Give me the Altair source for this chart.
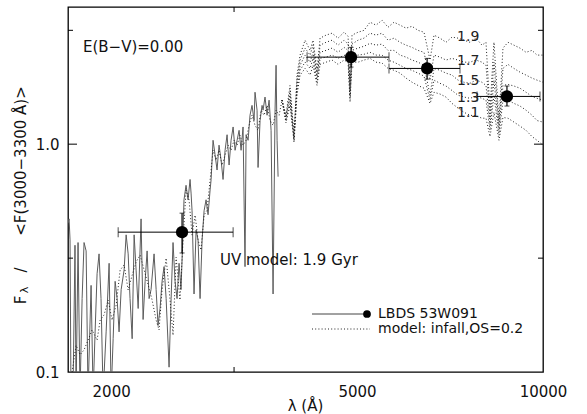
import altair as alt
import pandas as pd

FONT = "DejaVu Sans"
W, H = 475, 365

# observed spectrum (LBDS 53W091), wavelength in Angstrom, normalised flux
obs_wave = [1703, 1710, 1716, 1722, 1735, 1748, 1755, 1768, 1781, 1795, 1808, 1822, 1835, 1856, 1870,
            1884, 1898, 1912, 1926, 1941, 1963, 1985, 2000, 2015, 2030, 2045, 2060, 2076, 2099, 2115,
            2131, 2146, 2163, 2179, 2195, 2212, 2236, 2253, 2270, 2287, 2304, 2321, 2347, 2365, 2382,
            2400, 2418, 2436, 2455, 2482, 2501, 2519, 2538, 2557, 2576, 2595, 2615, 2624, 2644, 2664,
            2684, 2694, 2704, 2724, 2745, 2765, 2786, 2807, 2828, 2849, 2870, 2892, 2903, 2924, 2946,
            2968, 2990, 3013, 3035, 3058, 3081, 3104, 3127, 3151, 3174, 3198, 3222, 3246, 3270, 3294,
            3307, 3332, 3356, 3381, 3407, 3419, 3445, 3458, 3484, 3510, 3523, 3549, 3576, 3603, 3630,
            3657, 3684, 3698, 3712, 3726]
obs_flux = [0.45, 0.47, 0.38, 0.08, 0.08, 0.36, 0.08, 0.37, 0.08, 0.21, 0.37, 0.34, 0.08, 0.24, 0.08,
            0.15, 0.27, 0.33, 0.21, 0.08, 0.15, 0.30, 0.08, 0.14, 0.25, 0.21, 0.15, 0.23, 0.28, 0.40,
            0.33, 0.21, 0.14, 0.40, 0.28, 0.19, 0.47, 0.17, 0.25, 0.34, 0.21, 0.23, 0.33, 0.23, 0.16,
            0.19, 0.25, 0.29, 0.21, 0.105, 0.21, 0.37, 0.25, 0.21, 0.30, 0.23, 0.42, 0.57, 0.66, 0.57,
            0.70, 0.61, 0.51, 0.22, 0.42, 0.38, 0.21, 0.38, 0.51, 0.57, 0.49, 0.63, 0.70, 1.04, 0.90,
            0.77, 0.99, 0.85, 0.70, 0.94, 1.10, 0.81, 1.04, 1.19, 0.94, 1.04, 1.15, 0.94, 1.19, 0.29,
            1.10, 1.04, 1.34, 1.48, 1.27, 1.69, 1.41, 0.79, 1.27, 1.48, 1.41, 1.61, 1.34, 1.56, 1.15,
            0.22, 1.41, 2.22, 1.04, 0.72]

# UV part of the 1.9 Gyr model
uv_wave = [1729, 1755, 1781, 1808, 1835, 1863, 1898, 1920, 1948, 1978, 2007, 2038, 2068, 2099, 2131,
           2163, 2195, 2228, 2262, 2296, 2330, 2365, 2391, 2418, 2455, 2491, 2519, 2548, 2585, 2615,
           2644, 2674, 2704, 2735, 2765, 2796, 2828, 2859, 2892, 2924, 2957, 2990, 3024, 3058, 3093,
           3127, 3162, 3198, 3233, 3270, 3307, 3344, 3381, 3419, 3458, 3497, 3536, 3576, 3617, 3657,
           3698, 3740, 3781]
uv_flux = [0.10, 0.131, 0.119, 0.125, 0.138, 0.153, 0.138, 0.169, 0.178, 0.207, 0.169, 0.197, 0.280, 0.295, 0.229,
           0.266, 0.304, 0.326, 0.280, 0.241, 0.207, 0.169, 0.153, 0.229, 0.316, 0.207, 0.145, 0.319, 0.207, 0.379,
           0.629, 0.568, 0.399, 0.488, 0.379, 0.343, 0.488, 0.513, 0.695, 0.941, 0.851, 0.941, 0.809, 0.895, 0.99,
           0.941, 1.04, 0.99, 1.095, 0.99, 1.04, 1.21, 1.34, 1.21, 1.15, 1.41, 1.34, 1.48, 1.27, 1.21,
           1.41, 1.34, 1.56]

# optical part of the models (infall, OS=0.2), one list per age
opt_wave = [3781, 3837, 3895, 3954, 3998, 4044, 4120, 4198, 4244, 4308,
            4357, 4455, 4556, 4659, 4764, 4836, 4872, 4908, 5019, 5133,
            5249, 5368, 5489, 5613, 5740, 5869, 6002, 6138, 6276, 6418,
            6564, 6662, 6813, 6966, 7124, 7285, 7449, 7618, 7790, 7966,
            8086, 8207, 8330, 8487, 8614, 8776, 8974, 9180, 9387, 9598,
            9779, 10000]
model_19 = [1.56, 1.34, 1.81, 1.095, 2.01, 2.46, 2.86, 2.58, 2.86, 2.11,
            2.92, 3.01, 3.07, 2.92, 3.10, 2.98, 1.81, 3.01, 3.10, 3.16,
            3.43, 3.33, 3.50, 3.26, 3.43, 3.33, 3.23, 3.29, 3.16, 3.10,
            2.34, 3.01, 2.92, 2.80, 2.95, 2.92, 2.86, 2.80, 2.92, 2.72,
            2.80, 1.41, 2.80, 1.27, 2.64, 2.80, 2.72, 2.64, 2.53, 2.58,
            2.46, 2.46]
model_17 = [1.56, 1.31, 1.72, 1.07, 1.91, 2.34, 2.64, 2.46, 2.72, 2.03,
            2.72, 2.80, 2.86, 2.72, 2.86, 2.75, 1.72, 2.75, 2.86, 2.92,
            3.07, 3.01, 3.07, 2.86, 2.92, 2.80, 2.72, 2.66, 2.58, 2.53,
            1.91, 2.46, 2.41, 2.34, 2.38, 2.34, 2.29, 2.29, 2.34, 2.29,
            2.22, 1.30, 2.29, 1.21, 2.15, 2.24, 2.15, 2.07, 2.01, 1.95,
            1.91, 1.87]
model_15 = [1.56, 1.29, 1.64, 1.05, 1.81, 2.22, 2.46, 2.29, 2.53, 1.95,
            2.53, 2.58, 2.64, 2.53, 2.66, 2.58, 1.64, 2.58, 2.64, 2.69,
            2.77, 2.72, 2.75, 2.58, 2.58, 2.46, 2.41, 2.34, 2.29, 2.22,
            1.64, 2.15, 2.11, 2.05, 2.01, 1.91, 1.87, 1.85, 1.91, 1.87,
            1.81, 1.21, 1.91, 1.15, 1.81, 1.83, 1.80, 1.76, 1.69, 1.62,
            1.59, 1.56]
model_13 = [1.56, 1.26, 1.56, 1.04, 1.72, 2.11, 2.29, 2.15, 2.38, 1.87,
            2.38, 2.41, 2.46, 2.38, 2.46, 2.41, 1.59, 2.41, 2.46, 2.48,
            2.53, 2.46, 2.46, 2.34, 2.29, 2.22, 2.15, 2.11, 2.05, 1.99,
            1.56, 1.91, 1.85, 1.80, 1.72, 1.64, 1.61, 1.59, 1.62, 1.59,
            1.56, 1.15, 1.64, 1.095, 1.56, 1.56, 1.51, 1.47, 1.41, 1.34,
            1.27, 1.25]
model_11 = [1.56, 1.24, 1.48, 1.02, 1.64, 2.01, 2.15, 2.01, 2.22, 1.81,
            2.24, 2.29, 2.34, 2.24, 2.34, 2.29, 1.53, 2.29, 2.29, 2.34,
            2.38, 2.29, 2.27, 2.15, 2.11, 2.05, 1.95, 1.87, 1.81, 1.76,
            1.51, 1.69, 1.66, 1.61, 1.51, 1.44, 1.38, 1.34, 1.33, 1.30,
            1.30, 1.08, 1.38, 1.04, 1.31, 1.30, 1.25, 1.20, 1.15, 1.08,
            1.04, 0.99]
model_ages = ["1.9", "1.7", "1.5", "1.3", "1.1"]
age_label_wave = 7260
age_label_flux = [2.95, 2.31, 1.89, 1.59, 1.37]

# photometric points
pt_wave = [2605, 4890, 6493, 8743]
pt_flux = [0.411, 2.41, 2.15, 1.62]
pt_wave_lo = [2053, 4151, 5633, 7821]
pt_wave_hi = [3151, 5633, 7339, 9888]
pt_flux_lo = [0.333, 2.18, 1.93, 1.47]
pt_flux_hi = [0.498, 2.66, 2.38, 1.80]

x_labels = [2000, 5000, 10000]
y_labels = [0.1, 1.0]
x_minor = [3162]
y_major = [1.0]
y_minor = [0.316, 3.16]

# ---------------- data tables ----------------
obs_df = pd.DataFrame({"wave": obs_wave, "flux": obs_flux})
rows = [{"wave": w, "flux": f, "series": "uv"} for w, f in zip(uv_wave, uv_flux)]
for age, fl in zip(model_ages, [model_19, model_17, model_15, model_13, model_11]):
    rows += [{"wave": w, "flux": f, "series": age} for w, f in zip(opt_wave, fl)]
model_df = pd.DataFrame(rows)
pt_df = pd.DataFrame({"wave": pt_wave, "flux": pt_flux, "wlo": pt_wave_lo, "whi": pt_wave_hi,
                      "flo": pt_flux_lo, "fhi": pt_flux_hi})
lab_df = pd.DataFrame({"wave": [age_label_wave] * 5, "flux": age_label_flux, "age": model_ages})

xs = alt.Scale(type="log", domain=[1703, 10000], nice=False)
ys = alt.Scale(type="log", domain=[0.1, 4.0], nice=False)

xax = alt.Axis(values=x_labels, format="d", ticks=False, domain=False, grid=False,
               labelFont=FONT, labelFontSize=15, labelColor="#111", labelPadding=12,
               labelFlush=False, labelOverlap=False, title=None)
yax = alt.Axis(values=y_labels, format=".1f", ticks=False, domain=False, grid=False,
               labelFont=FONT, labelFontSize=15, labelColor="#111", labelPadding=9,
               labelFlush=False, labelOverlap=False, title=None)


def X(f="wave"):
    return alt.X(f"{f}:Q", scale=xs, axis=xax, title=None)


def Y(f="flux"):
    return alt.Y(f"{f}:Q", scale=ys, axis=yax, title=None)


DOT = [1, 2.2]

obs = alt.Chart(obs_df).mark_line(clip=True, color="#5c5c5c", strokeWidth=1).encode(x=X(), y=Y())

models = alt.Chart(model_df).mark_line(clip=True, color="#222", strokeWidth=1,
                                       strokeDash=DOT).encode(x=X(), y=Y(), detail="series:N")

hbar = alt.Chart(pt_df).mark_rule(color="black", strokeWidth=1).encode(
    x=X("wlo"), x2="whi:Q", y=Y())
vbar = alt.Chart(pt_df).mark_rule(color="black", strokeWidth=1.2).encode(
    x=X(), y=Y("flo"), y2="fhi:Q")
cap_l = alt.Chart(pt_df).mark_tick(color="black", orient="vertical", size=10, thickness=1).encode(
    x=X("wlo"), y=Y())
cap_r = alt.Chart(pt_df).mark_tick(color="black", orient="vertical", size=10, thickness=1).encode(
    x=X("whi"), y=Y())
cap_b = alt.Chart(pt_df).mark_tick(color="black", orient="horizontal", size=5, thickness=1).encode(
    x=X(), y=Y("flo"))
cap_t = alt.Chart(pt_df).mark_tick(color="black", orient="horizontal", size=5, thickness=1).encode(
    x=X(), y=Y("fhi"))
pts = alt.Chart(pt_df).mark_point(filled=True, color="black", opacity=1, size=150).encode(
    x=X(), y=Y())

labels = alt.Chart(lab_df).mark_text(align="left", baseline="middle", font=FONT, fontSize=14,
                                     color="#222").encode(x=X(), y=Y(), text="age:N")


def txt(s, x, y, size=15, align="left", angle=0, color="#111"):
    return alt.Chart().mark_text(text=s, align=align, baseline="middle", font=FONT,
                                 fontSize=size, angle=angle, color=color).encode(
        x=alt.value(x), y=alt.value(y))


ebv = txt("E(B−V)=0.00", 15, 40)
uvm = txt("UV model: 1.9 Gyr", 152, 253)

# x title
xtitle = txt("λ (Å)", W / 2, 399, align="center")

# legend
leg_line = alt.Chart().mark_rule(color="#444", strokeWidth=1).encode(
    x=alt.value(244), x2=alt.value(299), y=alt.value(307))
leg_dot = alt.Chart().mark_point(filled=True, color="black", opacity=1, size=60).encode(
    x=alt.value(299), y=alt.value(307))
leg_dash = alt.Chart().mark_rule(color="#222", strokeWidth=1, strokeDash=DOT).encode(
    x=alt.value(244), x2=alt.value(302), y=alt.value(322))
leg_t1 = txt("LBDS 53W091", 310, 307, size=14)
leg_t2 = txt("model: infall,OS=0.2", 310, 322, size=14)

# y title (rotated, with subscript lambda)
yt_main = txt("<F(3000−3300 Å)>", -47, 154, align="center", angle=270)
yt_slash = txt("/", -47, 263, align="center", angle=270)
yt_f = txt("F", -47, 293, align="center", angle=270)
yt_l = txt("λ", -43, 283, size=11, align="center", angle=270)

# inner ticks
xt_df = pd.DataFrame({"wave": x_minor})
ymaj_df = pd.DataFrame({"flux": y_major})
ymin_df = pd.DataFrame({"flux": y_minor})
tk = dict(color="black", strokeWidth=1)
xt_b = alt.Chart(xt_df).mark_rule(**tk).encode(x=X(), y=alt.value(H - 5), y2=alt.value(H))
xt_t = alt.Chart(xt_df).mark_rule(**tk).encode(x=X(), y=alt.value(0), y2=alt.value(5))
ymaj_l = alt.Chart(ymaj_df).mark_rule(**tk).encode(y=Y(), x=alt.value(0), x2=alt.value(9))
ymaj_r = alt.Chart(ymaj_df).mark_rule(**tk).encode(y=Y(), x=alt.value(W - 9), x2=alt.value(W))
ymin_l = alt.Chart(ymin_df).mark_rule(**tk).encode(y=Y(), x=alt.value(0), x2=alt.value(5))
ymin_r = alt.Chart(ymin_df).mark_rule(**tk).encode(y=Y(), x=alt.value(W - 5), x2=alt.value(W))

chart = alt.layer(
    obs, models, hbar, vbar, cap_l, cap_r, cap_b, cap_t, pts, labels,
    ebv, uvm, xtitle, leg_line, leg_dot, leg_dash, leg_t1, leg_t2,
    yt_main, yt_slash, yt_f, yt_l,
    xt_b, xt_t, ymaj_l, ymaj_r, ymin_l, ymin_r,
).properties(
    width=W, height=H,
    autosize=alt.AutoSizeParams(type="none"),
    padding={"left": 68, "top": 7, "right": 44, "bottom": 42},
    background="white",
).configure_view(stroke="black", strokeWidth=1.3).configure_axis(grid=False)

chart.save("out.html", embed_options={"renderer": "svg", "actions": False})
